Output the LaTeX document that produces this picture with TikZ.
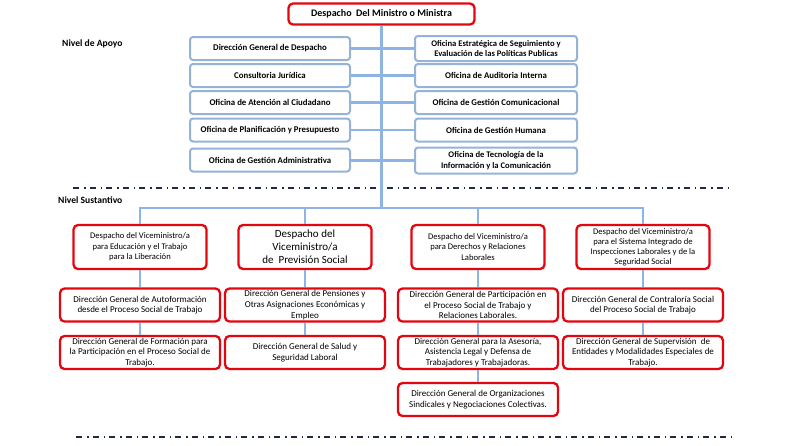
\documentclass[tikz,border=0pt]{standalone}
\usepackage{fontspec}
\setmainfont{Carlito}
\begin{document}
\begin{tikzpicture}[x=1pt,y=-1pt,
  linkline/.style={draw=lineblue,line width=2.6pt},
  supbox/.style={draw=boxblue,line width=2pt,rounded corners=3pt,fill=white,
    minimum width=160pt,minimum height=23pt,inner sep=0pt,align=center,
    font=\fontsize{8.8}{10}\selectfont\bfseries},
  redbox/.style={draw=boxred,line width=2.3pt,rounded corners=4.5pt,fill=white,
    inner sep=0pt,align=center,font=\fontsize{9}{10.6}\selectfont},
  vbox/.style={redbox,minimum width=133pt,minimum height=44pt},
  dgbox/.style={redbox,minimum width=160pt,minimum height=33pt},
  levelline/.style={draw=dashnavy,line width=1.6pt,dash pattern=on 6pt off 5pt on 1.5pt off 4pt},
  leveltext/.style={anchor=west,inner sep=0pt,font=\fontsize{9.6}{11}\selectfont\bfseries}
]
\definecolor{lineblue}{HTML}{8DB4E2}
\definecolor{boxblue}{HTML}{95B3D7}
\definecolor{boxred}{HTML}{E3060F}
\definecolor{dashnavy}{HTML}{1F2A44}
\useasboundingbox (0,0) rectangle (800,445);

% levels
\coordinate (d1a) at (73,188); \coordinate (d1b) at (728,188);
\coordinate (d2a) at (76,437); \coordinate (d2b) at (732,437);
\draw[levelline] (d1a) -- (d1b);
\draw[levelline] (d2a) -- (d2b);
\node[leveltext] (lapoyo) at (62,44) {Nivel de Apoyo};
\node[leveltext] (lsust) at (58,200) {Nivel Sustantivo};

% top
\node[redbox,minimum width=186pt,minimum height=21pt,font=\fontsize{10}{11}\selectfont\bfseries] (top) at (381.5,14) {Despacho\ \ Del Ministro o Ministra};
\coordinate (bus) at (381.5,208);

% support boxes
\node[supbox] (l1) at (270,48.5) {Dirección General de Despacho};
\node[supbox] (l2) at (270,75.5) {Consultoria Jurídica};
\node[supbox] (l3) at (270,102.5) {Oficina de Atención al Ciudadano};
\node[supbox] (l4) at (270,130) {Oficina de Planificación y Presupuesto};
\node[supbox] (l5) at (270,160) {Oficina de Gestión Administrativa};
\node[supbox,minimum width=162pt,minimum height=25pt,font=\fontsize{8.6}{10.4}\selectfont\bfseries] (r1) at (496,48.5) {Oficina Estratégica de Seguimiento y\\Evaluación de las Políticas Publicas};
\node[supbox,minimum width=162pt] (r2) at (496,75.5) {Oficina de Auditoria Interna};
\node[supbox,minimum width=162pt] (r3) at (496,102.5) {Oficina de Gestión Comunicacional};
\node[supbox,minimum width=162pt] (r4) at (496,130) {Oficina de Gestión Humana};
\node[supbox,minimum width=162pt,minimum height=26pt,font=\fontsize{8.6}{10.6}\selectfont\bfseries] (r5) at (496,160.5) {Oficina de Tecnología de la\\Información y la Comunicación};

% vice-ministries
\node[vbox,font=\fontsize{8.6}{10.6}\selectfont] (va) at (140,247) {Despacho del Viceministro/a\\para Educación y el Trabajo\\para la Liberación};
\node[vbox,font=\fontsize{11}{13}\selectfont] (vb) at (305,247) {Despacho del\\Viceministro/a\\de\ \ Previsión Social};
\node[vbox,font=\fontsize{8.6}{10.6}\selectfont] (vc) at (478,247) {Despacho del Viceministro/a\\para Derechos y Relaciones\\Laborales};
\node[vbox,font=\fontsize{8.6}{10}\selectfont] (vd) at (643,247) {Despacho del Viceministro/a\\para el Sistema Integrado de\\Inspecciones Laborales y de la\\Seguridad Social};

% direcciones
\node[dgbox] (a2) at (140,305) {Dirección General de Autoformación\\desde el Proceso Social de Trabajo};
\node[dgbox] (a3) at (140,352.5) {Dirección General de Formación para\\la Participación en el Proceso Social de\\Trabajo.};
\node[dgbox] (b2) at (305,305) {Dirección General de Pensiones y\\Otras Asignaciones Económicas y\\Empleo};
\node[dgbox] (b3) at (305,352.5) {Dirección General de Salud y\\Seguridad Laboral};
\node[dgbox] (c2) at (478,305) {Dirección General de Participación en\\el Proceso Social de Trabajo y\\Relaciones Laborales.};
\node[dgbox] (c3) at (478,352.5) {Dirección General para la Asesoría,\\Asistencia Legal y Defensa de\\Trabajadores y Trabajadoras.};
\node[dgbox] (c4) at (478,399.5) {Dirección General de Organizaciones\\Sindicales y Negociaciones Colectivas.};
\node[dgbox] (d2) at (643,305) {Dirección General de Contraloría Social\\del Proceso Social de Trabajo};
\node[dgbox] (d3) at (643,352.5) {Dirección General de Supervisión\ \ de\\Entidades y Modalidades Especiales de\\Trabajo.};

% connectors
\draw[linkline] (top.south) -- (bus);
\foreach \i in {1,...,5}{\draw[linkline] (l\i.east) -- (r\i.west -| l\i.east) -- (r\i.west);}
\draw[linkline] (va.north) |- (bus) -| (vd.north);
\draw[linkline] (vb.north) -- (vb.north |- bus);
\draw[linkline] (vc.north) -- (vc.north |- bus);
\draw[linkline] (va.south) -- (a2.north);
\draw[linkline] (a2.south) -- (a3.north);
\draw[linkline] (vb.south) -- (b2.north);
\draw[linkline] (b2.south) -- (b3.north);
\draw[linkline] (vc.south) -- (c2.north);
\draw[linkline] (c2.south) -- (c3.north);
\draw[linkline] (c3.south) -- (c4.north);
\draw[linkline] (vd.south) -- (d2.north);
\draw[linkline] (d2.south) -- (d3.north);
\end{tikzpicture}
\end{document}
